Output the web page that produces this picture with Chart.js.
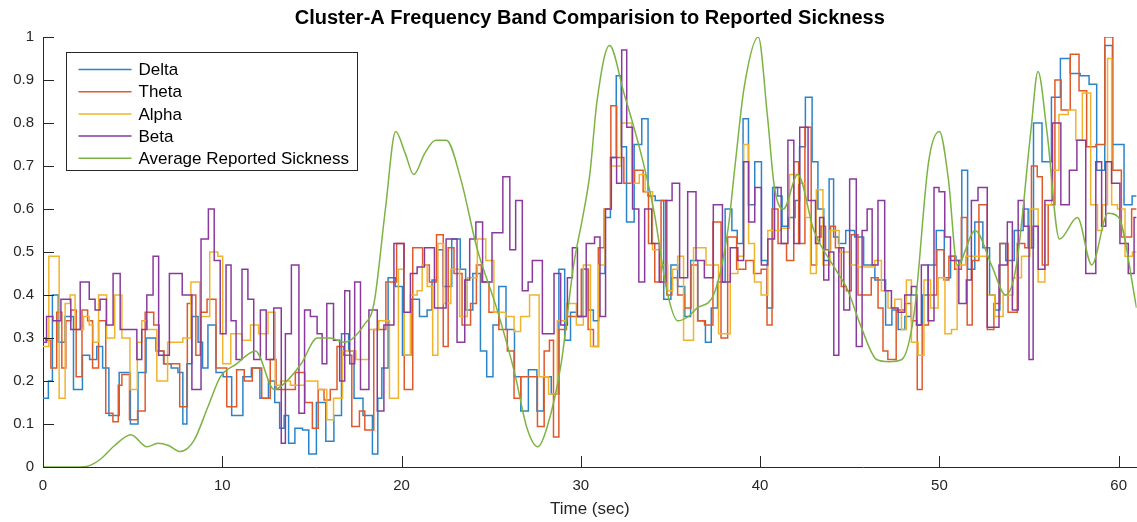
<!DOCTYPE html>
<html>
<head>
<meta charset="utf-8">
<title>Cluster-A Frequency Band Comparision</title>
<script src="https://cdn.jsdelivr.net/npm/chart.js@4.4.1/dist/chart.umd.min.js"></script>
<style>
    html, body { margin: 0; padding: 0; background: #ffffff; }
    #wrap { width: 1137px; height: 522px; }
</style>
</head>
<body>
<div id="wrap"><canvas id="bandChart" width="1137" height="522"></canvas></div>
<script>
// Band power samples (time in seconds, normalised power 0..1)
const deltaTime = [
    0, 0.2, 0.4, 0.65, 1.05, 1.4, 2.0, 2.4, 2.8, 3.2,
    3.45, 3.9, 4.6, 5.15, 5.45, 6.05, 6.55, 6.9, 7.4, 7.65,
    7.95, 8.1, 8.5, 8.8, 9.0, 9.4, 9.9, 10.2, 10.85, 11.45,
    11.8, 12.4, 12.75, 13.1, 13.3, 13.6, 13.8, 14.3, 14.65, 15.0,
    15.5, 16.05, 16.4, 16.9, 17.2, 17.5, 18.2, 18.55, 18.8, 19.0,
    19.5, 19.8, 20.3, 20.75, 21.25, 21.6, 21.8, 22.2, 22.45, 23.15,
    23.4, 23.75, 24.2, 24.6, 24.9, 25.3, 25.55, 26.1, 26.5, 26.8,
    27.35, 27.75, 28.1, 28.6, 28.95, 29.25, 29.6, 30.0, 30.25, 30.6,
    30.8, 31.2, 31.5, 31.8, 32.15, 32.35, 32.75, 33.2, 33.6, 33.9,
    34.4, 34.85, 35.2, 35.6, 36.0, 36.25, 36.8, 37.1, 37.45, 37.8,
    38.3, 38.55, 38.9, 39.2, 39.5, 39.9, 40.25, 40.55, 40.85, 41.1,
    41.35, 41.8, 42.1, 42.3, 42.75, 43.05, 43.4, 43.7, 44.0, 44.2,
    44.55, 45.0, 45.55, 46.0, 46.8, 47.2, 47.5, 47.9, 48.25, 48.6,
    48.9, 49.2, 49.55, 50.1, 50.45, 50.8, 51.05, 51.45, 51.7, 52.25,
    52.6, 53.0, 53.2, 53.55, 53.85, 54.5, 54.85, 55.05, 55.45, 56.0,
    56.5, 57.0, 57.6, 58.1, 58.6, 58.95, 59.5, 59.8, 60.1, 60.5,
    61.0
];
const deltaLevel = [
    0.16, 0.16, 0.2, 0.4, 0.29, 0.35, 0.18, 0.26, 0.25, 0.28,
    0.23, 0.12, 0.22, 0.1, 0.22, 0.3, 0.27, 0.24, 0.23, 0.22,
    0.1, 0.24, 0.35, 0.29, 0.23, 0.33, 0.22, 0.21, 0.12, 0.21,
    0.23, 0.16, 0.2, 0.15, 0.09, 0.12, 0.055, 0.09, 0.086, 0.03,
    0.15, 0.06, 0.12, 0.31, 0.27, 0.16, 0.12, 0.03, 0.16, 0.23,
    0.44, 0.42, 0.26, 0.39, 0.35, 0.365, 0.435, 0.505, 0.42, 0.53,
    0.46, 0.365, 0.45, 0.27, 0.21, 0.33, 0.42, 0.32, 0.21, 0.13,
    0.226, 0.13, 0.21, 0.17, 0.46, 0.295, 0.36, 0.35, 0.46, 0.365,
    0.34, 0.45, 0.58, 0.72, 0.91, 0.745, 0.57, 0.75, 0.81, 0.63,
    0.62, 0.39, 0.47, 0.42, 0.35, 0.48, 0.34, 0.29, 0.37, 0.43,
    0.6, 0.55, 0.52, 0.81, 0.61, 0.71, 0.48, 0.37, 0.65, 0.63,
    0.56, 0.58, 0.62, 0.745, 0.86, 0.71, 0.6, 0.48, 0.67, 0.535,
    0.52, 0.55, 0.535, 0.47, 0.435, 0.33, 0.365, 0.32, 0.35, 0.4,
    0.33, 0.4, 0.47, 0.55, 0.44, 0.49, 0.48, 0.69, 0.46, 0.57,
    0.51, 0.4, 0.365, 0.52, 0.48, 0.55, 0.6, 0.51, 0.8, 0.71,
    0.86, 0.95, 0.915, 0.91, 0.89, 0.69, 0.98, 0.75, 0.75, 0.61,
    0.63
];

const thetaTime = [
    0, 0.3, 0.58, 0.95, 1.15, 1.4, 1.7, 2.0, 2.35, 2.63,
    2.9, 3.3, 3.7, 4.1, 4.3, 4.5, 5.15, 5.4, 6.0, 6.35,
    6.6, 6.9, 7.3, 7.95, 8.15, 8.4, 8.65, 8.9, 9.4, 9.9,
    10.6, 11.0, 11.45, 11.9, 12.5, 12.85, 13.15, 13.8, 14.35, 14.85,
    15.2, 15.5, 15.85, 16.2, 16.6, 16.95, 17.5, 17.8, 18.1, 18.8,
    19.45, 20.0, 20.3, 20.95, 21.4, 21.7, 22.2, 22.45, 22.75, 23.1,
    23.65, 24.05, 24.3, 24.6, 25.15, 25.7, 26.1, 26.45, 26.85, 27.4,
    27.76, 28.15, 28.35, 28.6, 28.95, 29.45, 29.8, 30.25, 30.56, 30.85,
    31.1, 31.5, 31.85, 32.15, 32.65, 33.35, 33.6, 33.95, 34.3, 34.65,
    34.95, 35.2, 35.6, 35.96, 36.33, 36.7, 37.1, 37.64, 38.0, 38.38,
    39.0, 39.4, 39.87, 40.24, 40.53, 40.8, 41.2, 41.75, 42.0, 42.3,
    42.7, 43.0, 43.3, 43.5, 43.8, 44.06, 44.34, 44.72, 44.9, 45.27,
    45.65, 46.0, 46.4, 46.76, 46.95, 47.3, 47.88, 48.25, 48.63, 48.9,
    49.18, 49.6, 50.12, 50.39, 50.67, 51.04, 51.41, 51.69, 51.97, 52.44,
    52.9, 53.18, 53.55, 54.11, 54.58, 54.95, 55.32, 55.6, 55.88, 56.26,
    56.63, 56.95, 57.65, 57.93, 58.5, 58.96, 59.5, 59.85, 60.45, 61.0
];
const thetaLevel = [
    0.3, 0.295, 0.23, 0.36, 0.23, 0.34, 0.365, 0.21, 0.365, 0.34,
    0.23, 0.34, 0.125, 0.105, 0.19, 0.215, 0.11, 0.13, 0.36, 0.33,
    0.27, 0.24, 0.24, 0.14, 0.38, 0.4, 0.26, 0.36, 0.39, 0.23,
    0.14, 0.226, 0.2, 0.23, 0.16, 0.25, 0.18, 0.18, 0.22, 0.15,
    0.09, 0.18, 0.156, 0.18, 0.28, 0.26, 0.094, 0.13, 0.086, 0.32,
    0.43, 0.52, 0.18, 0.51, 0.47, 0.43, 0.54, 0.28, 0.51, 0.45,
    0.33, 0.38, 0.47, 0.43, 0.36, 0.32, 0.27, 0.16, 0.21, 0.21,
    0.094, 0.27, 0.295, 0.07, 0.32, 0.35, 0.35, 0.46, 0.32, 0.28,
    0.51, 0.6, 0.84, 0.72, 0.66, 0.69, 0.64, 0.52, 0.43, 0.62,
    0.4, 0.44, 0.4, 0.37, 0.47, 0.34, 0.33, 0.57, 0.3, 0.535,
    0.46, 0.48, 0.45, 0.46, 0.33, 0.6, 0.52, 0.48, 0.71, 0.52,
    0.79, 0.47, 0.535, 0.56, 0.505, 0.56, 0.51, 0.42, 0.41, 0.54,
    0.4, 0.4, 0.44, 0.37, 0.27, 0.25, 0.365, 0.38, 0.34, 0.18,
    0.33, 0.4, 0.505, 0.435, 0.49, 0.46, 0.58, 0.33, 0.48, 0.61,
    0.32, 0.38, 0.52, 0.36, 0.52, 0.51, 0.7, 0.675, 0.47, 0.61,
    0.9, 0.83, 0.96, 0.875, 0.745, 0.75, 1.0, 0.69, 0.535, 0.6
];

const alphaTime = [
    0, 0.65, 1.15, 1.32, 1.7, 1.88, 2.07, 2.45, 2.7, 2.9,
    3.3, 3.8, 4.2, 4.6, 5.1, 5.42, 5.6, 6.0, 6.7, 7.2,
    7.6, 8.0, 8.5, 9.0, 9.6, 9.9, 10.15, 10.8, 11.4, 11.75,
    12.3, 12.8, 13.1, 13.4, 14.2, 15.0, 15.66, 16.0, 16.41, 17.0,
    17.9, 18.46, 19.0, 19.65, 20.0, 20.3, 20.68, 21.06, 21.24, 21.62,
    21.85, 22.2, 22.5, 23.0, 23.48, 23.85, 24.6, 24.8, 25.5, 26.1,
    26.45, 26.83, 27.45, 27.9, 28.5, 28.88, 29.5, 30.0, 30.28, 30.8,
    31.2, 31.5, 31.9, 32.6, 33.07, 33.45, 33.72, 34.28, 34.66, 35.03,
    35.21, 35.59, 35.87, 36.7, 37.26, 38.1, 38.57, 38.95, 39.22, 39.5,
    39.87, 40.24, 40.62, 40.99, 41.36, 41.92, 42.4, 42.67, 42.95, 43.32,
    43.69, 44.1, 44.72, 45.27, 45.65, 46.2, 46.58, 46.95, 47.32, 47.7,
    48.07, 48.25, 48.63, 49.0, 49.28, 49.74, 50.12, 50.5, 50.85, 51.13,
    51.8, 52.4, 52.9, 53.28, 53.83, 54.39, 54.77, 55.32, 55.7, 56.07,
    56.44, 56.9, 57.47, 57.75, 58.2, 58.68, 58.96, 59.24, 59.52, 59.7,
    60.17, 60.54, 61.0
];
const alphaLevel = [
    0.28, 0.49, 0.16, 0.38, 0.4, 0.32, 0.32, 0.35, 0.33, 0.29,
    0.4, 0.3, 0.4, 0.3, 0.18, 0.29, 0.34, 0.32, 0.2, 0.29,
    0.29, 0.3, 0.43, 0.35, 0.5, 0.49, 0.24, 0.31, 0.295, 0.33,
    0.31, 0.36, 0.19, 0.2, 0.19, 0.2, 0.18, 0.11, 0.16, 0.27,
    0.25, 0.32, 0.34, 0.16, 0.46, 0.26, 0.4, 0.41, 0.47, 0.42,
    0.26, 0.52, 0.38, 0.46, 0.35, 0.44, 0.53, 0.48, 0.36, 0.35,
    0.315, 0.35, 0.4, 0.21, 0.17, 0.34, 0.38, 0.33, 0.47, 0.28,
    0.47, 0.6, 0.7, 0.8, 0.66, 0.68, 0.64, 0.505, 0.47, 0.41,
    0.46, 0.49, 0.295, 0.51, 0.47, 0.31, 0.45, 0.49, 0.75, 0.52,
    0.43, 0.4, 0.55, 0.55, 0.555, 0.68, 0.66, 0.58, 0.45, 0.645,
    0.47, 0.55, 0.5, 0.47, 0.465, 0.465, 0.48, 0.41, 0.37, 0.39,
    0.32, 0.435, 0.29, 0.26, 0.435, 0.37, 0.44, 0.31, 0.32, 0.47,
    0.49, 0.49, 0.4, 0.35, 0.4, 0.44, 0.49, 0.6, 0.43, 0.61,
    0.69, 0.82, 0.83, 0.76, 0.87, 0.61, 0.55, 0.61, 0.95, 0.61,
    0.6, 0.49, 0.5
];

const betaTime = [
    0, 0.4, 0.7, 1.3, 1.8, 2.35, 2.81, 3.0, 3.37, 3.7,
    4.12, 4.49, 5.05, 5.42, 5.6, 5.98, 6.3, 6.6, 7.5, 8.03,
    8.58, 9.05, 9.4, 9.7, 10.07, 10.35, 10.63, 10.91, 11.29, 11.57,
    11.94, 12.31, 12.59, 13.15, 13.43, 13.61, 14.1, 14.45, 14.73, 15.1,
    15.48, 15.66, 16.0, 16.41, 16.69, 16.97, 17.25, 17.52, 17.9, 18.46,
    18.83, 19.2, 19.95, 20.31, 20.68, 21.06, 21.5, 22.17, 22.8, 23.39,
    23.66, 23.94, 24.35, 24.69, 25.4, 25.9, 26.18, 26.55, 26.92, 27.2,
    27.39, 28.32, 28.69, 29.06, 29.44, 29.62, 30.0, 30.6, 30.93, 31.21,
    31.55, 31.85, 32.14, 32.42, 32.7, 33.07, 33.4, 33.72, 34.19, 34.56,
    34.93, 35.25, 35.77, 36.15, 36.7, 37.08, 37.7, 38.1, 38.57, 38.94,
    39.22, 39.5, 39.9, 40.24, 40.62, 40.99, 41.36, 41.74, 42.02, 42.4,
    42.95, 43.23, 43.41, 43.69, 43.97, 44.25, 44.53, 44.81, 45.18, 45.55,
    45.83, 46.11, 46.39, 46.76, 47.14, 47.51, 47.88, 48.25, 48.63, 48.81,
    49.18, 49.56, 49.84, 50.12, 50.48, 50.76, 51.41, 51.6, 51.97, 52.34,
    53.0, 53.65, 53.93, 54.21, 54.58, 54.86, 55.14, 55.32, 55.7, 56.07,
    56.55, 57.0, 57.5, 57.84, 58.49, 58.96, 59.14, 59.42, 59.79, 60.35,
    60.72, 61.0
];
const betaLevel = [
    0.29, 0.35, 0.34, 0.39, 0.32, 0.43, 0.39, 0.365, 0.39, 0.33,
    0.45, 0.32, 0.32, 0.25, 0.32, 0.4, 0.49, 0.26, 0.45, 0.4,
    0.18, 0.53, 0.6, 0.48, 0.31, 0.47, 0.34, 0.25, 0.46, 0.39,
    0.25, 0.365, 0.25, 0.37, 0.055, 0.31, 0.47, 0.125, 0.365, 0.35,
    0.31, 0.24, 0.38, 0.295, 0.2, 0.41, 0.24, 0.43, 0.18, 0.365,
    0.13, 0.33, 0.52, 0.36, 0.45, 0.465, 0.51, 0.37, 0.53, 0.29,
    0.435, 0.53, 0.57, 0.43, 0.545, 0.675, 0.505, 0.62, 0.41, 0.43,
    0.48, 0.31, 0.45, 0.33, 0.44, 0.51, 0.35, 0.52, 0.535, 0.35,
    0.6, 0.72, 0.66, 0.97, 0.79, 0.6, 0.43, 0.6, 0.52, 0.43,
    0.62, 0.66, 0.44, 0.64, 0.48, 0.44, 0.61, 0.43, 0.51, 0.48,
    0.71, 0.57, 0.65, 0.47, 0.53, 0.65, 0.52, 0.76, 0.52, 0.79,
    0.62, 0.52, 0.58, 0.435, 0.5, 0.26, 0.51, 0.365, 0.67, 0.28,
    0.55, 0.6, 0.47, 0.62, 0.41, 0.37, 0.36, 0.4, 0.42, 0.33,
    0.47, 0.34, 0.65, 0.64, 0.535, 0.48, 0.38, 0.435, 0.62, 0.65,
    0.325, 0.47, 0.57, 0.365, 0.62, 0.56, 0.25, 0.56, 0.46, 0.62,
    0.8, 0.61, 0.69, 0.76, 0.45, 0.71, 0.56, 0.71, 0.66, 0.52,
    0.45, 0.58
];

// Average reported sickness (smooth curve)
const sicknessTime = [
    0, 1, 2, 2.5, 3.2, 4.0, 4.9, 5.8, 6.4, 7.0,
    7.65, 8.4, 9.2, 9.9, 10.8, 11.85, 12.9, 13.6, 14.4, 15.3,
    16.0, 16.8, 17.9, 18.46, 19.1, 19.67, 20.2, 20.68, 21.3, 21.9,
    22.5, 23.3, 24.2, 25.3, 26.3, 27.0, 27.6, 28.1, 28.9, 29.6,
    30.1, 30.5, 30.9, 31.6, 32.4, 33.35, 34.1, 34.8, 35.4, 36.0,
    36.5, 37.4, 38.2, 38.6, 39.1, 39.9, 40.4, 40.8, 41.3, 42.1,
    43.0, 44.2, 44.9, 45.6, 46.5, 47.2, 47.9, 48.6, 49.4, 50.0,
    50.5, 51.0, 52.0, 52.9, 53.7, 54.3, 55.1, 55.5, 56.0, 56.7,
    57.7, 58.5, 59.4, 60.0, 61.0
];
const sicknessLevel = [
    0, 0, 0, 0.002, 0.018, 0.05, 0.075, 0.047, 0.055, 0.05,
    0.036, 0.06, 0.14, 0.21, 0.24, 0.27, 0.18, 0.2, 0.24, 0.3,
    0.3, 0.29, 0.33, 0.38, 0.6, 0.78, 0.73, 0.68, 0.73, 0.76,
    0.76, 0.67, 0.51, 0.37, 0.22, 0.09, 0.047, 0.09, 0.24, 0.47,
    0.58, 0.68, 0.85, 0.98, 0.87, 0.73, 0.59, 0.41, 0.34, 0.35,
    0.37, 0.4, 0.55, 0.7, 0.88, 1.0, 0.82, 0.65, 0.6, 0.68,
    0.55, 0.46, 0.41, 0.33, 0.25, 0.245, 0.25, 0.36, 0.71, 0.78,
    0.67, 0.47, 0.55, 0.47, 0.4, 0.47, 0.78, 0.92, 0.78, 0.53,
    0.58, 0.47, 0.59, 0.58, 0.37
];

const xTickStep = 10;
const yTickStep = 0.1;

const FONT = '"Liberation Sans", Arial, Helvetica, sans-serif';
const AXIS_COLOR = '#262626';

function toPoints(times, values) {
    return times.map((t, i) => ({ x: t, y: values[i] }));
}

// MATLAB-style inward tick marks on the left and bottom axes
const inwardTicks = {
    id: 'inwardTicks',
    afterDatasetsDraw(chart) {
        const { ctx, chartArea, scales } = chart;
        const len = 11;
        ctx.save();
        ctx.strokeStyle = AXIS_COLOR;
        ctx.lineWidth = 1;
        ctx.beginPath();
        scales.x.ticks.forEach(tick => {
            const px = Math.round(scales.x.getPixelForValue(tick.value)) + 0.5;
            ctx.moveTo(px, chartArea.bottom);
            ctx.lineTo(px, chartArea.bottom - len);
        });
        scales.y.ticks.forEach(tick => {
            const py = Math.round(scales.y.getPixelForValue(tick.value)) + 0.5;
            ctx.moveTo(chartArea.left, py);
            ctx.lineTo(chartArea.left + len, py);
        });
        ctx.stroke();
        ctx.restore();
    }
};

// Boxed legend inside the upper-left corner of the axes
const boxedLegend = {
    id: 'boxedLegend',
    afterDraw(chart) {
        const { ctx, chartArea } = chart;
        const left = chartArea.left + 23.5;
        const top = chartArea.top + 15.5;
        const width = 291;
        const height = 118;
        const rowGap = 22.2;
        ctx.save();
        ctx.fillStyle = '#ffffff';
        ctx.fillRect(left, top, width, height);
        ctx.strokeStyle = AXIS_COLOR;
        ctx.lineWidth = 1;
        ctx.strokeRect(left, top, width, height);
        ctx.font = '17px ' + FONT;
        ctx.textBaseline = 'middle';
        chart.data.datasets.forEach((ds, i) => {
            const y = top + 17 + i * rowGap;
            ctx.strokeStyle = ds.borderColor;
            ctx.lineWidth = 1.5;
            ctx.beginPath();
            ctx.moveTo(left + 12, y);
            ctx.lineTo(left + 65, y);
            ctx.stroke();
            ctx.fillStyle = '#000000';
            ctx.fillText(ds.label, left + 72, y + 1);
        });
        ctx.restore();
    }
};

// Keep the title centred over the axes rather than the whole canvas
const titleOverAxes = {
    id: 'titleOverAxes',
    afterLayout(chart) {
        const block = chart.titleBlock;
        if (!block) return;
        block.left = chart.chartArea.left;
        block.right = chart.chartArea.right;
        block.width = block.right - block.left;
    }
};

const ctx = document.getElementById('bandChart').getContext('2d');
new Chart(ctx, {
    type: 'line',
    data: {
        datasets: [
            {
                label: 'Delta',
                data: toPoints(deltaTime, deltaLevel),
                borderColor: '#2b84c9',
                borderWidth: 1.5,
                stepped: 'middle',
                order: 5
            },
            {
                label: 'Theta',
                data: toPoints(thetaTime, thetaLevel),
                borderColor: '#e0592a',
                borderWidth: 1.5,
                stepped: 'middle',
                order: 4
            },
            {
                label: 'Alpha',
                data: toPoints(alphaTime, alphaLevel),
                borderColor: '#f0b42c',
                borderWidth: 1.5,
                stepped: 'middle',
                order: 3
            },
            {
                label: 'Beta',
                data: toPoints(betaTime, betaLevel),
                borderColor: '#8a3a9c',
                borderWidth: 1.5,
                stepped: 'middle',
                order: 2
            },
            {
                label: 'Average Reported Sickness',
                data: toPoints(sicknessTime, sicknessLevel),
                borderColor: '#7cb342',
                borderWidth: 1.5,
                cubicInterpolationMode: 'monotone',
                order: 1
            }
        ]
    },
    options: {
        responsive: false,
        animation: false,
        devicePixelRatio: 1,
        events: [],
        layout: { padding: 0 },
        elements: {
            point: { radius: 0 },
            line: { fill: false }
        },
        plugins: {
            legend: { display: false },
            tooltip: { enabled: false },
            title: {
                display: true,
                text: 'Cluster-A Frequency Band Comparision to Reported Sickness',
                color: '#000000',
                font: { family: FONT, size: 20, weight: 'bold' },
                padding: { top: 6, bottom: 7 }
            }
        },
        scales: {
            x: {
                type: 'linear',
                min: 0,
                max: 61,
                afterFit(scale) { scale.height = 55; },
                grid: { display: false, drawTicks: false },
                border: { display: true, color: AXIS_COLOR, width: 1 },
                ticks: {
                    stepSize: xTickStep,
                    includeBounds: false,
                    maxRotation: 0,
                    color: AXIS_COLOR,
                    padding: 10,
                    font: { family: FONT, size: 15 }
                },
                title: {
                    display: true,
                    text: 'Time (sec)',
                    color: AXIS_COLOR,
                    font: { family: FONT, size: 17 },
                    padding: { top: 0, bottom: 2 }
                }
            },
            y: {
                min: 0,
                max: 1,
                afterFit(scale) { scale.width = 43; },
                grid: { display: false, drawTicks: false },
                border: { display: true, color: AXIS_COLOR, width: 1 },
                ticks: {
                    stepSize: yTickStep,
                    includeBounds: false,
                    color: AXIS_COLOR,
                    padding: 9,
                    font: { family: FONT, size: 15 },
                    // 0, 0.1 ... 0.9, 1 (no trailing zeros)
                    callback: value => String(Number(value.toFixed(1)))
                }
            }
        }
    },
    plugins: [inwardTicks, boxedLegend, titleOverAxes]
});
</script>
</body>
</html>
